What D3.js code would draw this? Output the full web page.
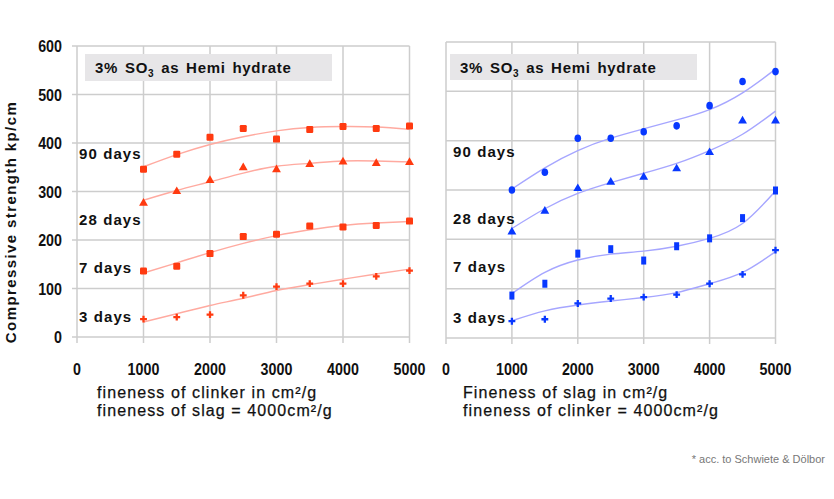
<!DOCTYPE html>
<html>
<head>
<meta charset="utf-8">
<script src="https://cdn.jsdelivr.net/npm/d3@7"></script>
<style>
  html, body { margin: 0; padding: 0; background: #fff; }
  svg { display: block; }
  .tick { font-family: "Liberation Sans", Arial, sans-serif; font-weight: bold; font-size: 17px; fill: #111; }
  .lbl { font-family: "Liberation Sans", Arial, sans-serif; font-weight: bold; font-size: 15px; fill: #111; letter-spacing: 1.1px; }
  .ttl { font-family: "Liberation Sans", Arial, sans-serif; font-size: 16px; fill: #111; letter-spacing: 1.1px; stroke: #111; stroke-width: 0.25px; }
</style>
</head>
<body>
<svg id="chart" width="834" height="499"></svg>
<script>
// ---------- data ----------
const fineness = [1000, 1500, 2000, 2500, 3000, 3500, 4000, 4500, 5000];
const xTicks = [0, 1000, 2000, 3000, 4000, 5000];
const yTicks = [0, 100, 200, 300, 400, 500, 600];
const ageLabels = ["90 days", "28 days", "7 days", "3 days"];
const ageLabelValues = [378, 242, 144, 42];

// left: fineness of clinker varied (slag = 4000 cm2/g)
const clinker90 = [346, 377, 412, 430, 408, 428, 434, 430, 435];
const clinker28 = [276, 300, 323, 349, 345, 356, 361, 358, 360];
const clinker7  = [136, 146, 172, 207, 212, 229, 227, 230, 239];
const clinker3  = [37, 41, 46, 86, 104, 110, 110, 125, 137];
const clinkerFit90 = [351, 376, 397, 413, 425, 432, 434, 433, 428];
const clinkerFit28 = [282, 302, 320, 338, 352, 358, 363, 363, 361];
const clinkerFit7  = [132, 153, 174, 193, 209, 221, 230, 235, 238];
const clinkerFit3  = [31, 48, 65, 80, 96, 108, 119, 130, 140];

// right: fineness of slag varied (clinker = 4000 cm2/g)
const slag90 = [300, 336, 405, 405, 418, 430, 471, 520, 540];
const slag28 = [215, 257, 303, 316, 326, 343, 376, 440, 440];
const slag7  = [86, 110, 171, 180, 157, 186, 202, 243, 299];
const slag3  = [34, 38, 70, 80, 83, 88, 110, 129, 178];
const slagFit90 = [302, 345, 380, 405, 424, 442, 463, 497, 545];
const slagFit28 = [222, 262, 293, 315, 334, 354, 380, 413, 460];
const slagFit7  = [90, 133, 158, 170, 176, 186, 202, 232, 298];
const slagFit3  = [35, 55, 67, 75, 82, 92, 110, 133, 175];

const boxTitle = ["3% SO", "3", " as Hemi  hydrate"];
const yTitle = "Compressive strength kp/cm";
const xTitlesLeft = ["fineness of clinker  in cm²/g", "fineness of slag = 4000cm²/g"];
const xTitlesRight = ["Fineness of slag in cm²/g", "fineness of clinker = 4000cm²/g"];
const footnote = "* acc. to Schwiete & Dölbor";

// ---------- drawing ----------
const svg = d3.select("#chart");
const gridColor = "#cdcdcd";

const panels = [
  {
    x: d3.scaleLinear().domain([0, 5000]).range([77, 409.5]),
    y: d3.scaleLinear().domain([0, 600]).range([337, 46]),
    series: [clinker90, clinker28, clinker7, clinker3],
    fits: [clinkerFit90, clinkerFit28, clinkerFit7, clinkerFit3],
    marker: "#ff3a10", line: "#ffaaa0",
    shapes: ["square", "triangle", "square", "cross"],
    yLabels: true, tickOut: 5, titles: xTitlesLeft, titleX: 97,
    labelX: 79, box: [85, 54, 247, 27]
  },
  {
    x: d3.scaleLinear().domain([0, 5000]).range([446, 775.5]),
    y: d3.scaleLinear().domain([0, 600]).range([338, 42]),
    series: [slag90, slag28, slag7, slag3],
    fits: [slagFit90, slagFit28, slagFit7, slagFit3],
    marker: "#0838ff", line: "#a6a6ff",
    shapes: ["circle", "triangle", "rect", "cross"],
    yLabels: false, tickOut: 0, titles: xTitlesRight, titleX: 463,
    labelX: 453, box: [450, 54, 247, 26]
  }
];

panels.forEach(p => {
  const g = svg.append("g");
  const x0 = p.x(0), x1 = p.x(5000), yTop = p.y(600), yBot = p.y(0);

  g.selectAll(".hg").data(yTicks).join("line")
    .attr("x1", x0 - p.tickOut).attr("x2", x1)
    .attr("y1", d => p.y(d)).attr("y2", d => p.y(d))
    .attr("stroke", gridColor).attr("stroke-width", 1.5);
  g.selectAll(".vg").data(xTicks).join("line")
    .attr("x1", d => p.x(d)).attr("x2", d => p.x(d))
    .attr("y1", yTop).attr("y2", yBot + 6)
    .attr("stroke", gridColor).attr("stroke-width", 1.5);

  g.append("rect").attr("x", p.box[0]).attr("y", p.box[1])
    .attr("width", p.box[2]).attr("height", p.box[3]).attr("fill", "#e7e6e8");
  const bt = g.append("text").attr("class", "lbl").style("letter-spacing", "0.7px")
    .attr("x", p.box[0] + 10).attr("y", p.box[1] + 19).attr("word-spacing", "2px");
  bt.append("tspan").text(boxTitle[0]);
  bt.append("tspan").attr("dy", 4).attr("font-size", 10).text(boxTitle[1]);
  bt.append("tspan").attr("dy", -4).text(boxTitle[2]);

  const line = d3.line().x((d, i) => p.x(fineness[i])).y(d => p.y(d)).curve(d3.curveNatural);
  p.fits.forEach(f => {
    g.append("path").attr("d", line(f)).attr("fill", "none")
      .attr("stroke", p.line).attr("stroke-width", 1.4);
  });

  p.series.forEach((s, si) => {
    const shape = p.shapes[si];
    const mg = g.append("g").attr("fill", p.marker);
    s.forEach((v, i) => {
      const cx = p.x(fineness[i]), cy = p.y(v);
      if (shape === "square") {
        mg.append("rect").attr("x", cx - 3.5).attr("y", cy - 3.5).attr("width", 7).attr("height", 7).attr("rx", 1.2);
      } else if (shape === "rect") {
        mg.append("rect").attr("x", cx - 2.5).attr("y", cy - 4).attr("width", 5).attr("height", 8);
      } else if (shape === "circle") {
        mg.append("ellipse").attr("cx", cx).attr("cy", cy).attr("rx", 3.3).attr("ry", 3.8);
      } else if (shape === "triangle") {
        mg.append("path").attr("d", d3.symbol(d3.symbolTriangle, 34)()).attr("transform", `translate(${cx},${cy})`);
      } else {
        mg.append("path").attr("d", d3.symbol(d3.symbolCross, 26)()).attr("transform", `translate(${cx},${cy})`);
      }
    });
  });

  g.selectAll(".age").data(ageLabels).join("text").attr("class", "lbl")
    .attr("x", p.labelX).attr("y", (d, i) => p.y(ageLabelValues[i]))
    .attr("dy", "0.36em").text(d => d);

  if (p.yLabels) {
    g.selectAll(".yt").data(yTicks).join("text").attr("class", "tick")
      .attr("transform", d => `translate(${x0 - 15},${p.y(d)}) scale(0.84,1)`)
      .attr("dy", "0.36em").attr("text-anchor", "end").text(d => d);
  }
  g.selectAll(".xt").data(xTicks).join("text").attr("class", "tick")
    .attr("transform", d => `translate(${p.x(d)},375) scale(0.84,1)`)
    .attr("text-anchor", "middle").text(d => d);

  g.selectAll(".xtt").data(p.titles).join("text").attr("class", "ttl")
    .attr("x", p.titleX).attr("y", (d, i) => 398 + i * 18).text(d => d);
});

svg.append("text").attr("class", "lbl").style("letter-spacing", "1.4px")
  .attr("transform", "translate(16,222) rotate(-90)")
  .attr("text-anchor", "middle").text(yTitle);

svg.append("text").attr("x", 825).attr("y", 463).attr("text-anchor", "end")
  .attr("font-family", "Liberation Sans, Arial, sans-serif").attr("font-size", 11)
  .attr("fill", "#777").text(footnote);
</script>
</body>
</html>
